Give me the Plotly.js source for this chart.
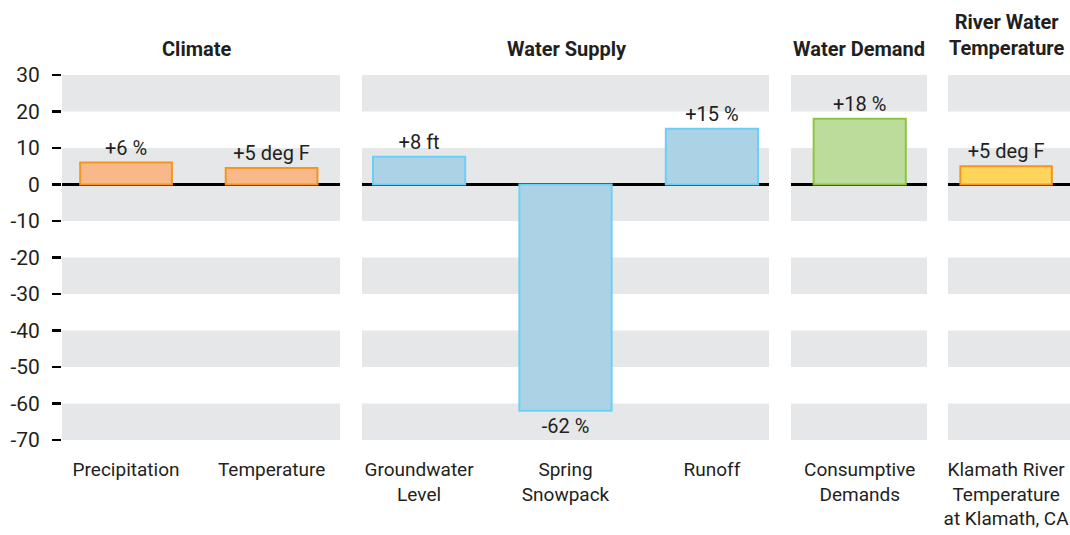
<!DOCTYPE html>
<html>
<head>
<meta charset="utf-8">
<script src="https://cdn.plot.ly/plotly-3.0.1.min.js"></script>
<style>html,body{margin:0;padding:0;background:#fff;}#chart{width:1070px;height:535px;}</style>
</head>
<body>
<div id="chart"></div>
<script>
// ---- data ----
const climateCats = ["Precipitation", "Temperature"];
const climateVals = [6, 4.5];
const climateText = ["+6 %", "+5 deg F"];

const supplyCats = ["Groundwater<br>Level", "Spring<br>Snowpack", "Runoff"];
const supplyVals = [7.6, -62, 15.3];
const supplyText = ["+8 ft", "-62 %", "+15 %"];

const demandCats = ["Consumptive<br>Demands"];
const demandVals = [18];
const demandText = ["+18 %"];

const riverCats = ["Klamath River<br>Temperature<br>at Klamath, CA"];
const riverVals = [5];
const riverText = ["+5 deg F"];

const panelTitles = ["Climate", "Water Supply", "Water Demand", "River Water<br>Temperature"];
const yTicks = [30, 20, 10, 0, -10, -20, -30, -40, -50, -60, -70];
const yTickText = ["30", "20", "10", "0", "-10", "-20", "-30", "-40", "-50", "-60", "-70"];
const bandRanges = [[20, 30], [-10, 10], [-30, -20], [-50, -40], [-70, -60]];

// ---- styling ----
const FONT = 'Roboto, "Noto Sans", sans-serif';
const TXT = '#231F20';
const BAND = '#E6E7E8';

function barTrace(cats, vals, txt, fill, line, xa, ya) {
  return {
    type: 'bar', x: cats, y: vals, text: txt, textposition: 'outside',
    texttemplate: '%{text}', cliponaxis: false,
    textfont: {family: FONT, size: 20, color: TXT},
    marker: {color: fill, line: {color: line, width: 2}},
    width: 0.63, xaxis: xa, yaxis: ya, hoverinfo: 'skip', showlegend: false
  };
}

const traces = [
  barTrace(climateCats, climateVals, climateText, '#F9B88A', '#F7941E', 'x', 'y'),
  barTrace(supplyCats, supplyVals, supplyText, '#ABD3E5', '#6CCFF6', 'x2', 'y2'),
  barTrace(demandCats, demandVals, demandText, '#BCDC9C', '#8CC63E', 'x3', 'y3'),
  barTrace(riverCats, riverVals, riverText, '#FFD45A', '#F7941E', 'x4', 'y4')
];

const L = 62, W = 1008;
const px = v => (v - L) / W;
const domains = [[px(62), px(340)], [px(362), px(769)], [px(791), px(927)], [px(948), 1]];
const xRanges = [[-0.44, 1.47], [-0.39, 2.39], [-0.47, 0.46], [-0.40, 0.44]];
const titleX = [px(196), px(567), px(858.5), px(1006)];
const titleY = [1.071, 1.071, 1.071, 1.109];

const layout = {
  width: 1070, height: 535,
  margin: {l: 62, r: 0, t: 75, b: 95},
  paper_bgcolor: '#fff', plot_bgcolor: 'rgba(0,0,0,0)',
  font: {family: FONT, size: 18, color: TXT},
  bargap: 0,
  shapes: [], annotations: []
};

const yBase = {
  range: [-70, 30], tickmode: 'array', tickvals: yTicks, ticktext: yTickText,
  showgrid: false, zeroline: true,
  zerolinecolor: '#000', zerolinewidth: 3, showline: false, fixedrange: true
};

for (let i = 0; i < 4; i++) {
  const sx = i === 0 ? '' : String(i + 1);
  layout['xaxis' + sx] = {
    domain: domains[i], type: 'category', range: xRanges[i], anchor: 'y' + sx,
    showgrid: false, zeroline: false, showline: false,
    ticks: 'outside', ticklen: 12, tickcolor: 'rgba(0,0,0,0)',
    tickfont: {family: FONT, size: 19, color: TXT}, fixedrange: true
  };
  const ya = Object.assign({}, yBase, {anchor: 'x' + sx});
  if (i === 0) {
    ya.ticks = 'outside'; ya.ticklen = 9; ya.tickwidth = 2.5; ya.tickcolor = '#000';
    ya.showticklabels = true; ya.ticklabelstandoff = 8;
    ya.tickfont = {family: FONT, size: 21, color: TXT};
  } else {
    ya.showticklabels = false; ya.ticks = '';
    ya.matches = 'y';
  }
  layout['yaxis' + sx] = ya;

  bandRanges.forEach(r => {
    layout.shapes.push({
      type: 'rect', xref: 'x' + sx + ' domain', yref: 'y' + sx,
      x0: 0, x1: 1, y0: r[0], y1: r[1], fillcolor: BAND, line: {width: 0}, layer: 'below'
    });
  });

  layout.annotations.push({
    text: '<b>' + panelTitles[i] + '</b>', xref: 'paper', yref: 'paper',
    x: titleX[i], y: titleY[i], xanchor: 'center', yanchor: 'middle',
    showarrow: false, font: {family: FONT, size: 20, color: TXT}
  });
}

Plotly.newPlot('chart', traces, layout, {displayModeBar: false, staticPlot: true});
</script>
</body>
</html>
